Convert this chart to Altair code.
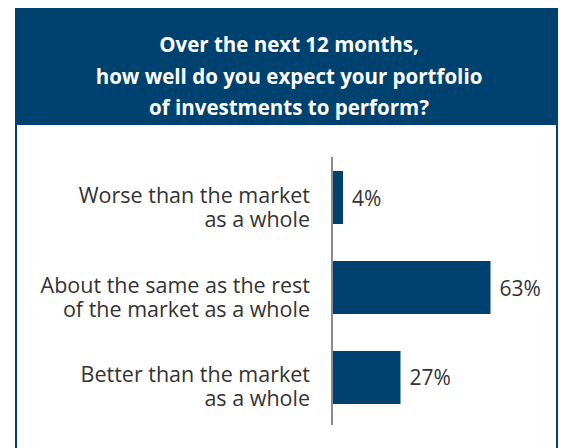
import altair as alt
import pandas as pd

categories = [
    "Worse than the market\nas a whole",
    "About the same as the rest\nof the market as a whole",
    "Better than the market\nas a whole",
]
values = [4, 63, 27]
value_labels = ["4%", "63%", "27%"]
title_lines = [
    "Over the next 12 months,",
    "how well do you expect your portfolio",
    "of investments to perform?",
]

df = pd.DataFrame({"category": categories, "value": values, "label": value_labels})
one = pd.DataFrame({"a": [0]})

BLUE = "#00426F"
TEXT = "#333333"
FONT = "Open Sans"

y_enc = alt.Y(
    "category:N",
    sort=categories,
    axis=None,
    scale=alt.Scale(range=[163, 396], paddingInner=0.411, paddingOuter=0),
)
x_enc = alt.X("value:Q", axis=None, scale=alt.Scale(domain=[0, 100], range=[325, 575]))

frame = alt.Chart(one).mark_rect(fillOpacity=0, stroke=BLUE, strokeWidth=2).encode(
    x=alt.value(8), x2=alt.value(549), y=alt.value(0), y2=alt.value(470)
)
banner = alt.Chart(one).mark_rect(color=BLUE).encode(
    x=alt.value(7), x2=alt.value(550), y=alt.value(0), y2=alt.value(117)
)
title = alt.Chart(one).mark_text(
    text=title_lines,
    font=FONT,
    fontSize=20.5,
    fontWeight="bold",
    color="white",
    align="center",
    baseline="alphabetic",
    lineHeight=31.5,
).encode(x=alt.value(281), y=alt.value(44))

axis_line = alt.Chart(one).mark_rule(color="#8c8c8c", strokeWidth=2).encode(
    x=alt.value(324), y=alt.value(149), y2=alt.value(417)
)

base = alt.Chart(df)
bars = base.mark_bar(color=BLUE).encode(y=y_enc, x=x_enc)
cat_labels = base.mark_text(
    font=FONT,
    fontSize=21.5,
    color=TEXT,
    align="right",
    baseline="middle",
    lineBreak="\n",
    lineHeight=24,
    dy=-1,
).encode(y=y_enc, x=alt.value(302), text="category:N")
val_labels = base.mark_text(
    font=FONT,
    fontSize=21,
    color=TEXT,
    align="left",
    baseline="middle",
    dx=9,
    dy=2,
).encode(y=y_enc, x=x_enc, text="label:N")

chart = alt.layer(frame, banner, title, axis_line, bars, cat_labels, val_labels).properties(
    width=550,
    height=440,
    padding=0,
    autosize=alt.AutoSizeParams(type="none"),
).configure_view(stroke=None)

chart.save("out.html", embed_options={"renderer": "svg", "actions": False})
